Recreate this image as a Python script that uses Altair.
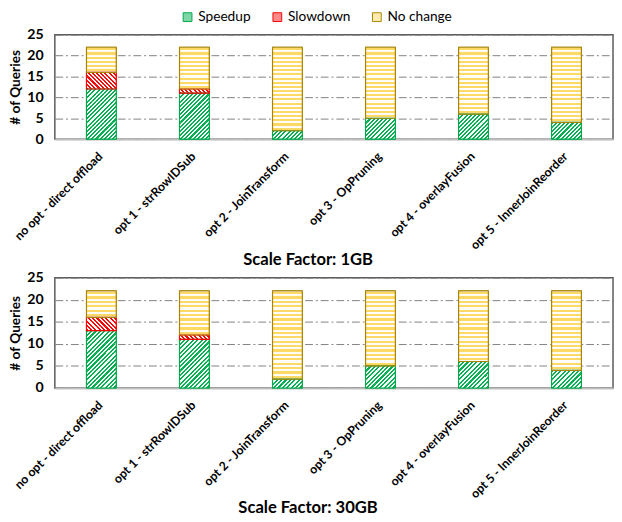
import altair as alt
import pandas as pd

# ---------------- data ----------------
CATEGORIES = [
    "no opt - direct offload",
    "opt 1 - strRowIDSub",
    "opt 2 - JoinTransform",
    "opt 3 - OpPruning",
    "opt 4 - overlayFusion",
    "opt 5 - InnerJoinReorder",
]
STATUS = ["Speedup", "Slowdown", "No change"]

SPEEDUP_1GB = [12, 11, 2, 5, 6, 4]
SLOWDOWN_1GB = [4, 1, 0, 0, 0, 0]
NOCHANGE_1GB = [6, 10, 20, 17, 16, 18]

SPEEDUP_30GB = [13, 11, 2, 5, 6, 4]
SLOWDOWN_30GB = [3, 1, 0, 0, 0, 0]
NOCHANGE_30GB = [6, 10, 20, 17, 16, 18]

Y_TICKS = [0, 5, 10, 15, 20, 25]

# ---------------- style ----------------
FONT = "Lato"
GREEN = "#00B050"
RED = "#FF0000"
YELLOW = "#FFD966"
STROKES = ["#00A84A", "#FF0000", "#A88400"]
TINTS = ["#7FD7A7", "#FF8A8A", "#FFEBB0"]
PLOT_W = 572
PAD_IN = 0.68
PAD_OUT = 0.34
BAR_W = PLOT_W / 6 * (1 - PAD_IN)


def diag_gradient(color, w, h, period_px, direction, duty=0.5):
    c = (w + h) / (w * w + h * h)
    p = period_px / (w + h)
    stops = []
    t = 0.0
    while t < 1 - 1e-6:
        a = t
        b = min(t + p * duty, 1.0)
        e = min(t + p, 1.0)
        stops.append({"offset": round(a, 4), "color": color})
        stops.append({"offset": round(b, 4), "color": color})
        if b < 1.0:
            stops.append({"offset": round(b, 4), "color": "#ffffff"})
            stops.append({"offset": round(e, 4), "color": "#ffffff"})
        t += p
    if direction == "up":
        x1, y1, x2, y2 = 0, 0, c * w, c * h
    else:
        x1, y1, x2, y2 = 0, 1, c * w, 1 - c * h
    return {"gradient": "linear", "x1": x1, "y1": y1, "x2": round(x2, 4),
            "y2": round(y2, 4), "stops": stops}


def hstripe_gradient(color, n, duty=0.5):
    stops = []
    for i in range(n):
        a = i / n
        m1 = a + (1 - duty) / (2 * n)
        m2 = m1 + duty / n
        e = (i + 1) / n
        stops += [
            {"offset": round(a, 4), "color": "#ffffff"},
            {"offset": round(m1, 4), "color": "#ffffff"},
            {"offset": round(m1, 4), "color": color},
            {"offset": round(m2, 4), "color": color},
            {"offset": round(m2, 4), "color": "#ffffff"},
            {"offset": round(e, 4), "color": "#ffffff"},
        ]
    return {"gradient": "linear", "x1": 0, "y1": 0, "x2": 0, "y2": 1, "stops": stops}


def build_frames(speed, slow, nochg):
    segs, units = [], []
    for i, cat in enumerate(CATEGORIES):
        base = 0
        for s, arr in zip(STATUS, [speed, slow, nochg]):
            n = arr[i]
            if n > 0:
                segs.append({"cat": cat, "status": s, "lo": base, "hi": base + n})
            for k in range(n):
                units.append({"cat": cat, "status": s, "lo": base + k, "hi": base + k + 1})
            base += n
    return pd.DataFrame(segs), pd.DataFrame(units)


def panel(speed, slow, nochg, title, height, show_legend):
    segs, units = build_frames(speed, slow, nochg)
    h = height / 25.0
    g_fill = diag_gradient(GREEN, BAR_W, h, h, "up")
    r_fill = diag_gradient(RED, BAR_W, h, h, "down")
    y_fill = hstripe_gradient(YELLOW, 1, 0.5)

    x = alt.X(
        "cat:N", sort=CATEGORIES,
        scale=alt.Scale(paddingInner=PAD_IN, paddingOuter=PAD_OUT),
        axis=alt.Axis(
            title=title, labelAngle=-45, labelFont=FONT, labelFontWeight="bold",
            labelFontSize=12.5, labelColor="#000000", labelPadding=11, ticks=False,
            labelOffset=-5,
            grid=False, domainColor="#BFBFBF", domainWidth=2, labelOverlap=False,
            titleFont=FONT, titleFontSize=17, titleFontWeight="bold", titleColor="#000000",
            titleX=259, titleY=123, titleBaseline="middle", titleAlign="center",
        ),
    )
    y = alt.Y(
        "lo:Q", scale=alt.Scale(domain=[0, 25], nice=False),
        axis=alt.Axis(
            title="# of Queries", values=Y_TICKS, grid=True, gridColor="#808080",
            gridDash=[8, 3, 2, 3], gridWidth=1, domain=False, ticks=False,
            labelFont=FONT, labelFontWeight="bold", labelFontSize=14.5,
            labelColor="#000000", labelPadding=12, titleFont=FONT, titleFontSize=14,
            titleFontWeight="bold", titleColor="#000000", titlePadding=4,
        ),
    )
    y2 = alt.Y2("hi:Q")

    if show_legend:
        legend = alt.Legend(
            title=None, orient="none", legendX=129, legendY=-25, direction="horizontal",
            symbolType="square", symbolSize=81, symbolStrokeWidth=1, symbolOpacity=1,
            labelFont=FONT, labelFontSize=14, labelColor="#000000",
            columnPadding=20, labelOffset=4,
        )
    else:
        legend = None

    # background segments (carry the legend); covered by hatched units
    back = alt.Chart(segs).mark_bar(strokeWidth=1).encode(
        x=x, y=y, y2=y2,
        fill=alt.Fill("status:N", sort=STATUS,
                      scale=alt.Scale(domain=STATUS, range=TINTS), legend=legend),
        stroke=alt.Stroke("status:N", sort=STATUS,
                          scale=alt.Scale(domain=STATUS, range=STROKES), legend=legend),
    )

    base = alt.Chart(units).encode(x=x, y=y, y2=y2)
    lay_g = base.transform_filter(alt.datum.status == "Speedup").mark_bar(fill=g_fill, strokeWidth=0)
    lay_r = base.transform_filter(alt.datum.status == "Slowdown").mark_bar(fill=r_fill, strokeWidth=0)
    lay_y = base.transform_filter(alt.datum.status == "No change").mark_bar(fill=y_fill, strokeWidth=0)

    seg_base = alt.Chart(segs).encode(x=x, y=y, y2=y2)
    outlines = [
        seg_base.transform_filter(alt.datum.status == s).mark_bar(
            fill="transparent", stroke=c, strokeWidth=1.2)
        for s, c in zip(STATUS, STROKES)
    ]
    return alt.layer(back, lay_g, lay_r, lay_y, *outlines).properties(width=PLOT_W, height=height)


top = panel(SPEEDUP_1GB, SLOWDOWN_1GB, NOCHANGE_1GB, "Scale Factor: 1GB", 107, True)
bot = panel(SPEEDUP_30GB, SLOWDOWN_30GB, NOCHANGE_30GB, "Scale Factor: 30GB", 113, False)

chart = (
    alt.vconcat(top, bot, spacing=1)
    .resolve_scale(stroke="independent", fill="independent")
    .properties(padding={"left": 0, "top": -5, "right": 0, "bottom": 0})
    .configure_view(stroke="#595959", strokeWidth=1.5)
)

chart.save("out.html", embed_options={"renderer": "svg", "actions": False})
